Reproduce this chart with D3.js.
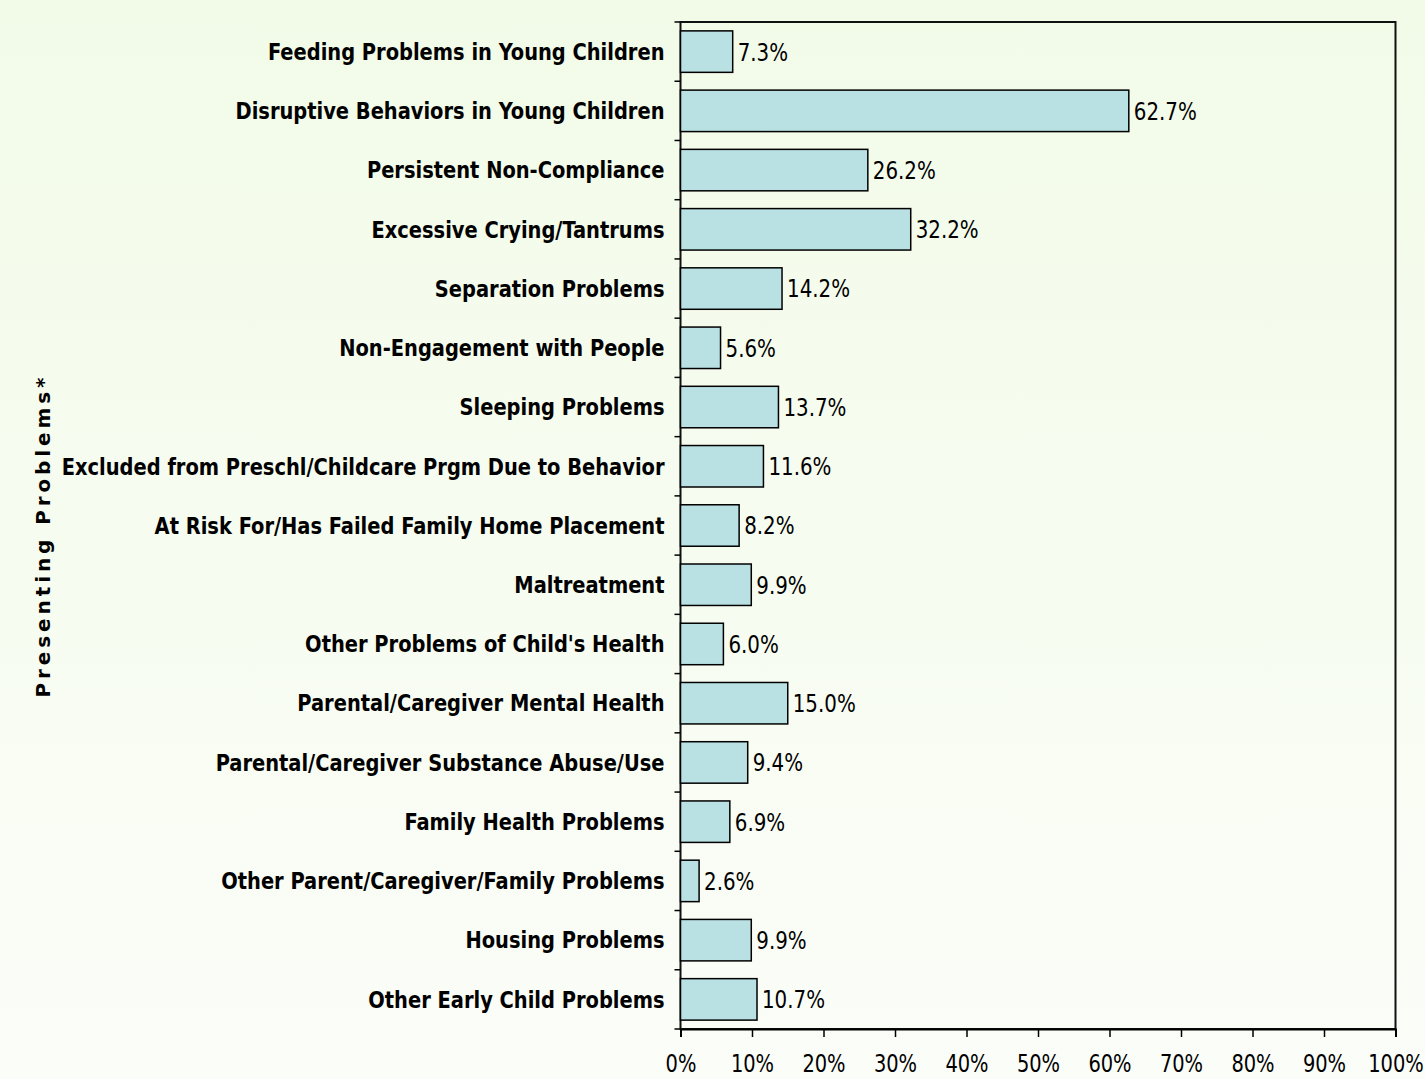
<!DOCTYPE html>
<html>
<head>
<meta charset="utf-8">
<script src="https://cdn.jsdelivr.net/npm/d3@7"></script>
<style>
  body { margin: 0; }
  svg { display: block; }
  .cond { font-family: "DejaVu Sans Condensed", "DejaVu Sans", sans-serif; font-stretch: condensed; }
</style>
</head>
<body>
<div id="chart"></div>
<script>
// chart data
const categories = [
    "Feeding Problems in Young Children",
    "Disruptive Behaviors in Young Children",
    "Persistent Non-Compliance",
    "Excessive Crying/Tantrums",
    "Separation Problems",
    "Non-Engagement with People",
    "Sleeping Problems",
    "Excluded from Preschl/Childcare Prgm Due to Behavior",
    "At Risk For/Has Failed Family Home Placement",
    "Maltreatment",
    "Other Problems of Child's Health",
    "Parental/Caregiver Mental Health",
    "Parental/Caregiver Substance Abuse/Use",
    "Family Health Problems",
    "Other Parent/Caregiver/Family Problems",
    "Housing Problems",
    "Other Early Child Problems"
];
const percents = [7.3, 62.7, 26.2, 32.2, 14.2, 5.6, 13.7, 11.6, 8.2, 9.9, 6.0, 15.0, 9.4, 6.9, 2.6, 9.9, 10.7];
const xTicks = [0, 10, 20, 30, 40, 50, 60, 70, 80, 90, 100];
const axisTitle = "Presenting Problems*";

const width = 1425,
    height = 1079;
const plot = { left: 680.5, right: 1395.5, top: 22, bottom: 1029 };

// the original font is narrower and taller than DejaVu Condensed, so squeeze a bit more
const catSqueeze = 0.94,
    numSqueeze = 0.9;

const svg = d3.select("#chart")
    .append("svg")
    .attr("width", width)
    .attr("height", height);

// background gradient
const grad = svg.append("defs").append("linearGradient")
    .attr("id", "bg")
    .attr("x1", 0).attr("y1", 0).attr("x2", 0).attr("y2", 1);
grad.append("stop").attr("offset", "0%").attr("stop-color", "#f2fbe8");
grad.append("stop").attr("offset", "100%").attr("stop-color", "#fbfdf8");

svg.append("rect")
    .attr("width", width)
    .attr("height", height)
    .attr("fill", "url(#bg)");

const x = d3.scaleLinear()
    .domain([0, 100])
    .range([plot.left, plot.right]);

const y = d3.scaleBand()
    .domain(categories)
    .range([plot.top, plot.bottom])
    .paddingInner(0.3)
    .paddingOuter(0.15);

// plot frame
svg.append("rect")
    .attr("x", plot.left)
    .attr("y", plot.top)
    .attr("width", plot.right - plot.left)
    .attr("height", plot.bottom - plot.top)
    .attr("fill", "none")
    .attr("stroke", "#111")
    .attr("stroke-width", 2);

// bars
svg.selectAll(".bar")
    .data(percents)
    .join("rect")
    .attr("class", "bar")
    .attr("x", x(0))
    .attr("y", (d, i) => y(categories[i]))
    .attr("width", d => x(d) - x(0))
    .attr("height", y.bandwidth())
    .attr("fill", "#b9e0e3")
    .attr("stroke", "#000")
    .attr("stroke-width", 1.5);

// value labels
svg.selectAll(".val")
    .data(percents)
    .join("text")
    .attr("class", "val cond")
    .attr("transform", (d, i) => `translate(${x(d) + 5}, ${y(categories[i]) + y.bandwidth() / 2}) scale(${numSqueeze}, 1)`)
    .attr("dominant-baseline", "central")
    .style("font-size", "24.5px")
    .text(d => d.toFixed(1) + "%");

// category ticks on the left (at band boundaries)
const step = (plot.bottom - plot.top) / categories.length;
svg.selectAll(".ctick")
    .data(d3.range(categories.length + 1))
    .join("line")
    .attr("x1", plot.left - 6)
    .attr("x2", plot.left)
    .attr("y1", i => plot.top + i * step)
    .attr("y2", i => plot.top + i * step)
    .attr("stroke", "#000")
    .attr("stroke-width", 1.5);

// category labels
svg.selectAll(".cat")
    .data(categories)
    .join("text")
    .attr("class", "cat cond")
    .attr("transform", d => `translate(${plot.left - 16}, ${y(d) + y.bandwidth() / 2}) scale(${catSqueeze}, 1)`)
    .attr("text-anchor", "end")
    .attr("dominant-baseline", "central")
    .style("font-size", "23px")
    .style("font-weight", "bold")
    .text(d => d);

// x axis
const xAxis = d3.axisBottom(x)
    .tickValues(xTicks)
    .tickFormat(d => d + "%")
    .tickSize(8)
    .tickPadding(18);

const gx = svg.append("g")
    .attr("transform", `translate(0, ${plot.bottom})`)
    .call(xAxis);
gx.select(".domain").attr("stroke-width", 2);
gx.selectAll(".tick line").attr("stroke-width", 1.5);
gx.selectAll(".tick text")
    .attr("class", "cond")
    .attr("transform", `scale(${numSqueeze}, 1)`)
    .attr("x", 0)
    .style("font-size", "24px")
    .attr("fill", "#000");

// axis title
svg.append("text")
    .attr("transform", `translate(50, ${(plot.top + plot.bottom) / 2 + 10}) rotate(-90)`)
    .attr("text-anchor", "middle")
    .style("font-family", "'DejaVu Sans', sans-serif")
    .style("font-weight", "bold")
    .style("font-size", "20px")
    .style("letter-spacing", "3.9px")
    .text(axisTitle);
</script>
</body>
</html>
